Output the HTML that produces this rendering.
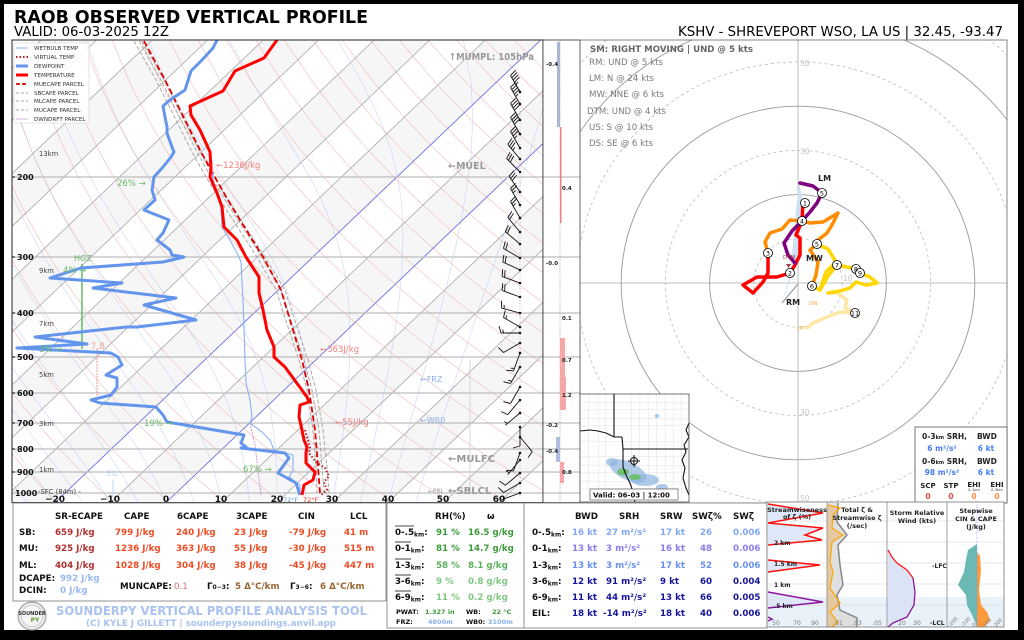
<!DOCTYPE html>
<html><head><meta charset="utf-8">
<style>
html,body{margin:0;padding:0;background:#000;}
svg{display:block;}
text{font-family:"DejaVu Sans","Liberation Sans",sans-serif;}
</style></head><body>
<svg xmlns="http://www.w3.org/2000/svg" width="1024" height="640" viewBox="0 0 1024 640">
<defs>
<clipPath id="cs"><rect x="12" y="40" width="531" height="462.6"/></clipPath>
<clipPath id="ch"><rect x="580" y="40" width="427" height="463"/></clipPath>
<clipPath id="cm"><rect x="580" y="394" width="109" height="108"/></clipPath>
</defs>
<rect x="0" y="0" width="1024" height="640" fill="#000"/>
<rect x="4" y="4" width="1014" height="626" fill="#fff"/>

<!-- titles -->
<text x="14" y="23" font-size="17.5" font-weight="bold" textLength="354" lengthAdjust="spacingAndGlyphs">RAOB OBSERVED VERTICAL PROFILE</text>
<text x="14" y="36" font-size="13.3" textLength="155" lengthAdjust="spacingAndGlyphs">VALID: 06-03-2025 12Z</text>
<text x="678" y="36" font-size="13.3" textLength="325" lengthAdjust="spacingAndGlyphs">KSHV - SHREVEPORT WSO, LA US | 32.45, -93.47</text>

<!-- skew-T background -->
<g clip-path="url(#cs)"><g id="bg"></g>
<g stroke="#bdbdbd" stroke-width="1.2">
<line x1="12" y1="177" x2="543" y2="177"/><line x1="12" y1="257" x2="543" y2="257"/>
<line x1="12" y1="313" x2="543" y2="313"/><line x1="12" y1="357" x2="543" y2="357"/>
<line x1="12" y1="393" x2="543" y2="393"/><line x1="12" y1="423" x2="543" y2="423"/>
<line x1="12" y1="449" x2="543" y2="449"/><line x1="12" y1="472" x2="543" y2="472"/>
<line x1="12" y1="493" x2="543" y2="493"/>
</g>
<line x1="470" y1="360" x2="470" y2="495" stroke="#ccc" stroke-width="0.8"/>
<!-- HGZ / lapse / EIL -->
<line x1="82" y1="264" x2="82" y2="349" stroke="#66bb66" stroke-width="1.5"/>
<line x1="97" y1="349" x2="97" y2="402" stroke="#f08080" stroke-width="0.8" stroke-dasharray="2,1"/>
<line x1="113" y1="480" x2="113" y2="497" stroke="#bcd4f4" stroke-width="1"/>
<!-- parcels -->
<polyline fill="none" stroke="#a8a8a8" stroke-width="1" stroke-dasharray="4,2" points="134,41 156,80 176,120 191,150 202,170 217,195 233,220 257,257 276,290 289,330 299,360 307,390 313,430 316,467 317,493"/>
<polyline fill="none" stroke="#a8a8a8" stroke-width="1" stroke-dasharray="4,2" points="139,41 161,80 181,120 196,150 207,170 222,195 238,220 262,257 281,290 294,330 304,360 312,390 319,430 322,467 324,493"/>
<polyline fill="none" stroke="#a8a8a8" stroke-width="1" stroke-dasharray="4,2" points="142,41 164,80 184,120 199,150 210,170 225,195 241,220 265,257 285,290 298,330 308,360 316,390 323,430 327,467 329,493"/>
<polyline fill="none" stroke="#e00000" stroke-width="1.8" stroke-dasharray="6,3" points="144,41 165,80 185,120 200,150 211,170 225,195 240,220 263,257 281,290 293,330 302,360 309,390 315,430 318,467 320,493"/>
<!-- downdraft -->
<polyline fill="none" stroke="#c98ad0" stroke-width="0.9" stroke-dasharray="2,1" points="250,423 255,445 258,470 261,495"/>
<!-- wetbulb -->
<polyline fill="none" stroke="#86b2f6" stroke-width="1.1" points="211,165 213,180 217,193 221,207 222,227 230,240 239,257 241,262 243,300 244,327 245,360 246,383 250,400 252,417 250,423 262,432 270,440 274,450 293,455 293,470 289,477 300,485 300,495"/>
<!-- virtual temp -->
<polyline fill="none" stroke="#b22222" stroke-width="2" stroke-dasharray="1.5,2" points="305,430 310,447 309,453 316,462 325,468 329,476 324,482 327,490 321,495"/>
<!-- dewpoint -->
<polyline fill="none" stroke="#6495ed" stroke-width="3" stroke-linejoin="round" points="217,40 213,48 202,60 191,71 185,90 170,100 163,106 165,117 167,127 167,133 172,147 174,152 171,157 163,167 154,177 152,190 155,200 144,210 169,220 163,233 157,240 170,250 172,255 184,257 163,262 81,268 50,278 122,283 93,288 176,298 144,305 196,320 137,327 126,327 35,337 87,344 17,348 111,353 118,357 122,365 106,375 117,378 117,387 111,395 91,400 100,403 156,407 163,415 167,422 244,435 241,443 246,447 241,448 285,453 289,458 278,473 296,483 300,495"/>
<!-- temperature -->
<polyline fill="none" stroke="#ff0000" stroke-width="3" stroke-linejoin="round" points="277,40 264,58 235,71 223,91 190,106 191,115 200,130 210,152 211,168 210,177 217,193 222,207 224,227 237,240 246,257 259,277 259,293 263,310 267,330 274,347 274,357 285,367 307,397 309,402 300,405 299,417 302,430 304,440 307,447 306,453 306,463 315,472 313,480 304,485 302,495"/>
<!-- barbs -->
<line x1="520" y1="90" x2="520" y2="496" stroke="#999" stroke-width="0.6" stroke-dasharray="1,2"/>
<g id="barbs"></g>
</g>
<rect x="12" y="40" width="531" height="462.6" fill="none" stroke="#222" stroke-width="1"/>

<!-- legend -->
<rect x="14" y="43" width="75" height="80" fill="#fff" fill-opacity="0.9" stroke="#d0d0d0" stroke-width="0.6" rx="2"/>
<g stroke-linecap="butt">
<line x1="16" y1="48" x2="28" y2="48" stroke="#86b2f6" stroke-width="1"/>
<line x1="16" y1="57" x2="28" y2="57" stroke="#b22222" stroke-width="2" stroke-dasharray="1.5,2"/>
<line x1="16" y1="66" x2="28" y2="66" stroke="#6495ed" stroke-width="3"/>
<line x1="16" y1="75" x2="28" y2="75" stroke="#ff0000" stroke-width="3"/>
<line x1="16" y1="84" x2="28" y2="84" stroke="#e00000" stroke-width="1.8" stroke-dasharray="4,2"/>
<line x1="16" y1="93" x2="28" y2="93" stroke="#a8a8a8" stroke-width="1" stroke-dasharray="3,2"/>
<line x1="16" y1="101" x2="28" y2="101" stroke="#a8a8a8" stroke-width="1" stroke-dasharray="3,2"/>
<line x1="16" y1="110" x2="28" y2="110" stroke="#a8a8a8" stroke-width="1" stroke-dasharray="3,2"/>
<line x1="16" y1="119" x2="28" y2="119" stroke="#d8a0d8" stroke-width="0.8"/>
</g>
<g font-size="5.6" fill="#333">
<text x="34" y="50">WETBULB TEMP</text><text x="34" y="59">VIRTUAL TEMP</text>
<text x="34" y="68">DEWPOINT</text><text x="34" y="77">TEMPERATURE</text>
<text x="34" y="86">MUECAPE PARCEL</text><text x="34" y="95">SBCAPE PARCEL</text>
<text x="34" y="103">MLCAPE PARCEL</text><text x="34" y="112">MUCAPE PARCEL</text>
<text x="34" y="121">DWNDRFT PARCEL</text>
</g>

<!-- pressure labels -->
<g font-size="8" font-weight="bold" fill="#111">
<text x="17" y="180">200</text><text x="17" y="260">300</text><text x="17" y="316">400</text>
<text x="17" y="360">500</text><text x="17" y="396">600</text><text x="17" y="426">700</text>
<text x="17" y="452">800</text><text x="17" y="475">900</text><text x="15" y="496">1000</text>
</g>
<g stroke="#111" stroke-width="1"><line x1="12" y1="177" x2="15" y2="177"/><line x1="12" y1="257" x2="15" y2="257"/><line x1="12" y1="313" x2="15" y2="313"/><line x1="12" y1="357" x2="15" y2="357"/><line x1="12" y1="393" x2="15" y2="393"/><line x1="12" y1="423" x2="15" y2="423"/><line x1="12" y1="449" x2="15" y2="449"/><line x1="12" y1="472" x2="15" y2="472"/></g>
<!-- temp axis labels -->
<g font-size="9" font-weight="bold" fill="#111" text-anchor="middle">
<text x="55" y="502">−20</text><text x="110" y="502">−10</text><text x="166" y="502">0</text>
<text x="221" y="502">10</text><text x="277" y="502">20</text><text x="332" y="502">30</text>
<text x="388" y="502">40</text><text x="443" y="502">50</text><text x="499" y="502">60</text>
</g>
<text x="283" y="502" font-size="6.5" fill="#6495ed">72°F</text>
<text x="303" y="502" font-size="6.5" fill="#ff3030">72°F</text>
<!-- height labels -->
<g font-size="6.8" fill="#444">
<text x="39" y="156">13km</text><text x="39" y="273">9km</text><text x="39" y="326">7km</text>
<text x="39" y="377">5km</text><text x="39" y="426">3km</text><text x="39" y="472">1km</text>
<text x="38" y="494">-SFC (84m) -</text>
</g>
<!-- annotations -->
<g font-size="8.5">
<text x="117" y="186" fill="#66bb66">26% →</text>
<text x="74" y="261" fill="#66bb66" font-size="8">HGZ</text>
<text x="63" y="273" fill="#66bb66">4% →</text>
<text x="39" y="352" fill="#66bb66">3% →</text>
<text x="91" y="349" fill="#f4a0a0">7.8</text>
<text x="144" y="426" fill="#66bb66">19% →</text>
<text x="243" y="472" fill="#66bb66">67% →</text>
<text x="107" y="476" fill="#bcd4f4" font-size="7.5">EIL</text>
<text x="216" y="168" fill="#f08080">←1236J/kg</text>
<text x="320" y="352" fill="#f08080">←363J/kg</text>
<text x="335" y="425" fill="#f08080">←55J/kg</text>
<text x="420" y="382" fill="#8ab0f0" font-size="8">←FRZ</text>
<text x="420" y="423" fill="#8ab0f0" font-size="8">←WB0</text>
</g>
<g font-size="9.5" font-weight="bold" fill="#999">
<text x="449" y="60" textLength="85" lengthAdjust="spacingAndGlyphs">↑MUMPL: 105hPa</text>
<text x="448" y="169">←MUEL</text>
<text x="448" y="462" font-size="10">←MULFC</text>
<text x="448" y="494" font-size="10">←SBLCL</text>
<text x="428" y="493" font-size="6" font-weight="normal">←PBL</text>
</g>

<!-- right strip -->
<rect x="543" y="40" width="37" height="462.6" fill="#fff"/>
<g stroke="#bdbdbd" stroke-width="1.2">
<line x1="543" y1="177" x2="580" y2="177"/><line x1="543" y1="257" x2="580" y2="257"/>
<line x1="543" y1="313" x2="580" y2="313"/><line x1="543" y1="357" x2="580" y2="357"/>
<line x1="543" y1="393" x2="580" y2="393"/><line x1="543" y1="423" x2="580" y2="423"/>
<line x1="543" y1="449" x2="580" y2="449"/><line x1="543" y1="472" x2="580" y2="472"/>
<line x1="543" y1="493" x2="580" y2="493"/>
</g>
<line x1="560" y1="40" x2="560" y2="502" stroke="#888" stroke-width="0.6" stroke-dasharray="1.5,1.5"/>
<rect x="557" y="42" width="3" height="85" fill="#a9b6d4"/>
<rect x="560" y="127" width="1.5" height="96" fill="#f08080"/>
<rect x="560" y="338" width="5" height="39" fill="#f6a8a8"/>
<rect x="560" y="377" width="6" height="33" fill="#f6a8a8"/>
<rect x="556" y="437" width="4" height="25" fill="#b0bce0"/>
<rect x="560" y="462" width="4" height="21" fill="#f6a8a8"/>
<g font-size="5.5" font-weight="bold" fill="#222">
<text x="546" y="66">-0.4</text><text x="562" y="190">0.4</text><text x="546" y="265">-0.0</text>
<text x="562" y="320">0.1</text><text x="562" y="362">0.7</text><text x="562" y="397">1.2</text>
<text x="546" y="427">-0.2</text><text x="546" y="453">-0.4</text><text x="562" y="474">0.8</text>
</g>
<rect x="543" y="40" width="37" height="462.6" fill="none" stroke="#333" stroke-width="0.8"/>

<!-- hodograph -->
<g clip-path="url(#ch)">
<g fill="none">
<circle cx="798" cy="283" r="44.2" stroke="#bbb" stroke-width="0.8" stroke-dasharray="3,3"/>
<circle cx="798" cy="283" r="88.4" stroke="#999" stroke-width="0.9"/>
<circle cx="798" cy="283" r="132.6" stroke="#bbb" stroke-width="0.8" stroke-dasharray="3,3"/>
<circle cx="798" cy="283" r="176.8" stroke="#999" stroke-width="0.9"/>
<circle cx="798" cy="283" r="221" stroke="#bbb" stroke-width="0.8" stroke-dasharray="3,3"/>
<circle cx="798" cy="283" r="265.2" stroke="#999" stroke-width="0.9"/>
<circle cx="798" cy="283" r="309.4" stroke="#bbb" stroke-width="0.8" stroke-dasharray="3,3"/>
<circle cx="798" cy="283" r="353.6" stroke="#999" stroke-width="0.9"/>
</g>
<line x1="798" y1="40" x2="798" y2="503" stroke="#aaa" stroke-width="0.8"/>
<line x1="580" y1="283" x2="1007" y2="283" stroke="#aaa" stroke-width="0.8"/>
<g font-size="7.5" fill="#c4c4c4">
<text x="800" y="66">50</text><text x="800" y="154">30</text><text x="843" y="281">10</text>
<text x="800" y="415">30</text><text x="800" y="501">50</text>
</g>
<polygon points="799,182 803,203 797,260 782,303 790,275 796,210" fill="#cfe2f3"/>
<line x1="782" y1="303" x2="798" y2="284" stroke="#999" stroke-width="1.2"/>
<g fill="none" stroke-width="3.5" stroke-linejoin="round" stroke-linecap="round">
<polyline stroke="#ffe8a6" points="828,293 837,293 843,297 847,300 845,308 855,313 840,312 827,317 813,323 807,328"/>
<polyline stroke="#ffd700" points="817,244 828,249 836,262 826,272 820,290 828,276 837,265 856,269 860,273 870,277 877,283 866,285 856,282 850,288 840,291 828,293"/>
<polyline stroke="#ffd700" points="812,286 820,290"/>
<polyline stroke="#ff8c00" points="768,253 765,242 770,233 782,229 790,220 802,221 810,223 823,222 838,213 832,225 827,233 818,240 817,244 810,250 818,262 816,275 812,286"/>
<polyline stroke="#ff0000" points="803,203 802,221 796,235 800,238 800,255 795,265 790,273 777,277 757,277 743,285 753,293 763,282 768,273 768,253"/>
<polyline stroke="#800080" points="800,183 813,186 822,193 817,203 810,212 802,221 792,231 784,243 788,255 795,263"/>
</g>
<g stroke="#000" stroke-width="0.8" fill="#fff">
<circle cx="805" cy="203" r="4.5"/><circle cx="822" cy="193" r="4.5"/><circle cx="802" cy="221" r="4.5"/>
<circle cx="817" cy="244" r="4.5"/><circle cx="768" cy="253" r="4.5"/><circle cx="790" cy="273" r="4.5"/>
<circle cx="812" cy="286" r="4.5"/><circle cx="837" cy="265" r="4.5"/><circle cx="856" cy="269" r="4.5"/>
<circle cx="860" cy="273" r="4.5"/><circle cx="855" cy="313" r="4.5"/>
</g>
<g font-size="6.5" text-anchor="middle" fill="#000">
<text x="805" y="205.5">1</text><text x="822" y="195.5">5</text><text x="802" y="223.5">4</text>
<text x="817" y="246.5">5</text><text x="768" y="255.5">3</text><text x="790" y="275.5">2</text>
<text x="812" y="288.5">6</text><text x="837" y="267.5">7</text><text x="856" y="271.5">8</text>
<text x="860" y="275.5">9</text><text x="855" y="315.5">11</text>
</g>
<g font-size="8" font-weight="bold" fill="#222">
<text x="818" y="181">LM</text><text x="806" y="261">MW</text><text x="786" y="305">RM</text>
</g>
<text x="783" y="259" font-size="5.5" fill="#a03030">DTM</text>
<polygon points="786,264 791,264 788.5,268" fill="#a04040"/>
<text x="809" y="305" font-size="5.5" fill="#f0b040">DN</text>
<text x="797" y="330" font-size="5.5" fill="#f0b040">UP</text>
</g>
<rect x="580" y="40" width="427" height="463" fill="none" stroke="#666" stroke-width="0.8"/>
<text x="590" y="52" font-size="9" font-weight="bold" fill="#666" textLength="163" lengthAdjust="spacingAndGlyphs">SM: RIGHT MOVING | UND @ 5 kts</text>
<g font-size="9.2" fill="#7a7a7a">
<text x="589" y="65" textLength="74" lengthAdjust="spacingAndGlyphs">RM: UND @ 5 kts</text>
<text x="589" y="81" textLength="65" lengthAdjust="spacingAndGlyphs">LM: N @ 24 kts</text>
<text x="589" y="97" textLength="75" lengthAdjust="spacingAndGlyphs">MW: NNE @ 6 kts</text>
<text x="587" y="114" textLength="79" lengthAdjust="spacingAndGlyphs">DTM: UND @ 4 kts</text>
<text x="589" y="130" textLength="64" lengthAdjust="spacingAndGlyphs">US: S @ 10 kts</text>
<text x="589" y="146" textLength="64" lengthAdjust="spacingAndGlyphs">DS: SE @ 6 kts</text>
</g>

<!-- map inset -->
<rect x="580" y="394" width="109" height="108" fill="#fff"/>
<g clip-path="url(#cm)">
<g stroke="#e0e0e0" stroke-width="0.5">
<line x1="580" y1="402" x2="689" y2="403"/><line x1="580" y1="410" x2="689" y2="409"/><line x1="580" y1="418" x2="689" y2="419"/><line x1="580" y1="426" x2="689" y2="425"/><line x1="580" y1="441" x2="689" y2="442"/><line x1="580" y1="457" x2="689" y2="456"/><line x1="580" y1="465" x2="689" y2="466"/><line x1="580" y1="473" x2="689" y2="472"/><line x1="580" y1="481" x2="689" y2="482"/><line x1="580" y1="489" x2="689" y2="488"/>
<line x1="589" y1="394" x2="588" y2="502"/><line x1="598" y1="394" x2="599" y2="502"/><line x1="606" y1="394" x2="605" y2="502"/><line x1="631" y1="394" x2="632" y2="502"/><line x1="640" y1="394" x2="639" y2="502"/><line x1="648" y1="394" x2="649" y2="502"/><line x1="657" y1="394" x2="656" y2="502"/><line x1="665" y1="394" x2="666" y2="502"/><line x1="674" y1="394" x2="673" y2="502"/><line x1="681" y1="394" x2="682" y2="502"/>
</g>
<g fill="#8fb3e0" fill-opacity="0.7">
<ellipse cx="628" cy="471" rx="20" ry="9" transform="rotate(25 628 471)"/>
<ellipse cx="645" cy="480" rx="14" ry="6"/>
<ellipse cx="612" cy="462" rx="6" ry="4"/>
<ellipse cx="657" cy="416" rx="2.5" ry="2"/>
<ellipse cx="662" cy="487" rx="6" ry="3"/>
</g>
<g fill="#66c060" fill-opacity="0.85">
<ellipse cx="623" cy="472" rx="6" ry="3.5"/><ellipse cx="635" cy="477" rx="6" ry="3"/>
</g>
<g fill="none" stroke="#111" stroke-width="1.1">
<path d="M614,394 L614,437"/>
<path d="M580,431 L590,430 L598,431 L606,433 L614,437 L622,437"/>
<path d="M622,437 L623,449 L623,467 L626,475 L630,483 L633,492 L635,502"/>
<path d="M623,449 L688,449"/>
<path d="M689,423 L686,430 L689,437 L684,445 L686,452 L682,460 L685,468 L683,478 L686,488 L689,495"/>
</g>
<circle cx="634" cy="461" r="3.5" fill="none" stroke="#111" stroke-width="1"/>
<path d="M628,461 L640,461 M634,455 L634,467" stroke="#111" stroke-width="1"/>
<rect x="590" y="489" width="88" height="11" fill="#fff" stroke="#444" stroke-width="0.6"/>
<text x="593" y="497.5" font-size="7" font-weight="bold" fill="#111">Valid: 06-03 | 12:00</text>
</g>
<rect x="580" y="394" width="109" height="108" fill="none" stroke="#555" stroke-width="0.8"/>

<!-- SRH box -->
<rect x="915" y="427" width="92" height="76" fill="#fff" stroke="#555" stroke-width="0.8"/>
<g font-size="7.5" font-weight="bold" fill="#222">
<text x="922" y="439">0-3<tspan font-size="5">km</tspan> SRH,</text><text x="977" y="439">BWD</text>
<text x="922" y="464">0-6<tspan font-size="5">km</tspan> SRH,</text><text x="977" y="464">BWD</text>
</g>
<g font-size="7.5" font-weight="bold" fill="#4a7cf4" text-anchor="middle">
<text x="942" y="451">6 m²/s²</text><text x="986" y="451">6 kt</text>
<text x="942" y="475">98 m²/s²</text><text x="986" y="475">6 kt</text>
</g>
<g font-size="7" font-weight="bold" fill="#222" text-anchor="middle">
<text x="928" y="488">SCP</text><text x="951" y="488">STP</text><text x="974" y="487">EHI</text><text x="997" y="487">EHI</text>
</g>
<g font-size="3.5" fill="#333" text-anchor="middle"><text x="974" y="491">0–1km</text><text x="997" y="491">0–3km</text></g>
<g font-size="7.5" font-weight="bold" text-anchor="middle">
<text x="928" y="499" fill="#e04848">0</text><text x="951" y="499" fill="#e04848">0</text>
<text x="974" y="499" fill="#ff8c3c">0</text><text x="997" y="499" fill="#ff8c3c">0</text>
</g>

<!-- panel 1 -->
<rect x="13" y="503" width="373" height="98" fill="#fff" stroke="#777" stroke-width="0.8"/>
<g font-size="8.7" font-weight="bold">
<g fill="#111">
<text x="55" y="519">SR-ECAPE</text><text x="124" y="519">CAPE</text><text x="177" y="519">6CAPE</text>
<text x="236" y="519">3CAPE</text><text x="298" y="519">CIN</text><text x="350" y="519">LCL</text>
<text x="19" y="535">SB:</text><text x="19" y="551">MU:</text><text x="19" y="568">ML:</text>
<text x="19" y="581">DCAPE:</text><text x="19" y="593">DCIN:</text>
<text x="120" y="589">MUNCAPE:</text>
<text x="207" y="589">Γ<tspan font-size="6">0−3</tspan>:</text>
<text x="290" y="589">Γ<tspan font-size="6">3−6</tspan>:</text>
</g>
<g fill="#b03030">
<text x="55" y="535">659 J/kg</text><text x="55" y="551">925 J/kg</text><text x="55" y="568">404 J/kg</text>
</g>
<g fill="#f04a22">
<text x="115" y="535">799 J/kg</text><text x="176" y="535">240 J/kg</text><text x="234" y="535">23 J/kg</text><text x="289" y="535">-79 J/kg</text><text x="344" y="535">41 m</text>
<text x="115" y="551">1236 J/kg</text><text x="176" y="551">363 J/kg</text><text x="234" y="551">55 J/kg</text><text x="289" y="551">-30 J/kg</text><text x="344" y="551">515 m</text>
<text x="115" y="568">1028 J/kg</text><text x="176" y="568">304 J/kg</text><text x="234" y="568">38 J/kg</text><text x="289" y="568">-45 J/kg</text><text x="344" y="568">447 m</text>
</g>
<text x="60" y="581" fill="#9ab8f0">992 J/kg</text>
<text x="60" y="593" fill="#9ab8f0">0 J/kg</text>
<text x="174" y="589" fill="#cd7070" font-weight="normal">0.1</text>
<text x="235" y="589" fill="#9a6530">5 Δ°C/km</text>
<text x="320" y="589" fill="#9a6530">6 Δ°C/km</text>
</g>
<!-- logo -->
<circle cx="32" cy="616" r="14" fill="#e8e8e8" stroke="#999" stroke-width="1"/>
<circle cx="32" cy="616" r="10.5" fill="#f6f6f6" stroke="#bbb" stroke-width="0.6"/>
<text x="32" y="615" font-size="5" font-weight="bold" fill="#333" text-anchor="middle">SOUNDER</text>
<text x="35" y="622" font-size="6" font-weight="bold" fill="#6a9a3a" text-anchor="middle">PY</text>
<text x="56" y="615" font-size="12.5" font-weight="bold" fill="#a9c2ef" textLength="311" lengthAdjust="spacingAndGlyphs">SOUNDERPY VERTICAL PROFILE ANALYSIS TOOL</text>
<text x="86" y="626" font-size="8.5" font-weight="bold" fill="#a9c2ef" textLength="250" lengthAdjust="spacingAndGlyphs">(C) KYLE J GILLETT | sounderpysoundings.anvil.app</text>

<!-- panels 2 & 3 -->
<rect x="387" y="503" width="380" height="125" fill="#fff" stroke="#777" stroke-width="0.8"/>
<line x1="524" y1="503" x2="524" y2="628" stroke="#777" stroke-width="0.8"/>
<g font-size="8.7" font-weight="bold">
<g fill="#111">
<text x="435" y="519">RH(%)</text><text x="487" y="519">ω</text>
<text x="395" y="535">0-.5<tspan font-size="6" dy="1.5">km</tspan><tspan dy="-1.5">:</tspan></text>
<text x="395" y="551">0-1<tspan font-size="6" dy="1.5">km</tspan><tspan dy="-1.5">:</tspan></text>
<text x="395" y="568">1-3<tspan font-size="6" dy="1.5">km</tspan><tspan dy="-1.5">:</tspan></text>
<text x="395" y="584">3-6<tspan font-size="6" dy="1.5">km</tspan><tspan dy="-1.5">:</tspan></text>
<text x="395" y="600">6-9<tspan font-size="6" dy="1.5">km</tspan><tspan dy="-1.5">:</tspan></text>
</g>
<g fill="#3c9c3c"><text x="436" y="535">91 %</text><text x="468" y="535">16.5 g/kg</text><text x="436" y="551">81 %</text><text x="468" y="551">14.7 g/kg</text></g>
<g fill="#5ab05a"><text x="436" y="568">58 %</text><text x="468" y="568">8.1 g/kg</text></g>
<g fill="#80c880"><text x="436" y="584">9 %</text><text x="468" y="584">0.8 g/kg</text><text x="436" y="600">11 %</text><text x="468" y="600">0.2 g/kg</text></g>
</g>
<g stroke="#111" stroke-width="0.8">
<line x1="395" y1="526" x2="414" y2="526"/><line x1="395" y1="542" x2="411" y2="542"/><line x1="395" y1="559" x2="411" y2="559"/><line x1="395" y1="575" x2="411" y2="575"/><line x1="395" y1="591" x2="411" y2="591"/>
</g>
<g font-size="6.5" font-weight="bold">
<text x="396" y="614" fill="#111">PWAT:</text><text x="425" y="614" fill="#3c9c3c">1.327 in</text>
<text x="466" y="614" fill="#111">WB:</text><text x="492" y="614" fill="#3c9c3c">22 °C</text>
<text x="396" y="624" fill="#111">FRZ:</text><text x="428" y="624" fill="#8ab0f0">4800m</text>
<text x="466" y="624" fill="#111">WB0:</text><text x="488" y="624" fill="#8ab0f0">3100m</text>
</g>
<g font-size="8.7" font-weight="bold">
<g fill="#111">
<text x="575" y="519">BWD</text><text x="619" y="519">SRH</text><text x="660" y="519">SRW</text><text x="692" y="519">SWζ%</text><text x="733" y="519">SWζ</text>
<text x="532" y="535">0-.5<tspan font-size="6" dy="1.5">km</tspan><tspan dy="-1.5">:</tspan></text>
<text x="532" y="551">0-1<tspan font-size="6" dy="1.5">km</tspan><tspan dy="-1.5">:</tspan></text>
<text x="532" y="568">1-3<tspan font-size="6" dy="1.5">km</tspan><tspan dy="-1.5">:</tspan></text>
<text x="532" y="584">3-6<tspan font-size="6" dy="1.5">km</tspan><tspan dy="-1.5">:</tspan></text>
<text x="532" y="600">6-9<tspan font-size="6" dy="1.5">km</tspan><tspan dy="-1.5">:</tspan></text>
<text x="532" y="616">EIL:</text>
</g>
<g fill="#80a8f4"><text x="572" y="535">16 kt</text><text x="606" y="535">27 m²/s²</text><text x="660" y="535">17 kt</text><text x="700" y="535">26</text><text x="733" y="535">0.006</text></g>
<g fill="#8a7cf0"><text x="572" y="551">13 kt</text><text x="606" y="551">3 m²/s²</text><text x="660" y="551">16 kt</text><text x="700" y="551">48</text><text x="733" y="551">0.006</text></g>
<g fill="#6890ee"><text x="572" y="568">13 kt</text><text x="606" y="568">3 m²/s²</text><text x="660" y="568">17 kt</text><text x="700" y="568">52</text><text x="733" y="568">0.006</text></g>
<g fill="#16169c">
<text x="572" y="584">12 kt</text><text x="606" y="584">91 m²/s²</text><text x="660" y="584">9 kt</text><text x="700" y="584">60</text><text x="733" y="584">0.004</text>
<text x="572" y="600">11 kt</text><text x="606" y="600">44 m²/s²</text><text x="660" y="600">13 kt</text><text x="700" y="600">66</text><text x="733" y="600">0.005</text>
<text x="572" y="616">18 kt</text><text x="603" y="616">-14 m²/s²</text><text x="660" y="616">18 kt</text><text x="700" y="616">40</text><text x="733" y="616">0.006</text>
</g>
</g>

<!-- panel 4 -->
<rect x="767" y="502" width="237" height="125" fill="#fff"/>
<rect x="767" y="597" width="237" height="30" fill="#e9f2f9"/>
<g stroke="#d0d0d0" stroke-width="0.6">
<line x1="767" y1="521" x2="1004" y2="521"/><line x1="767" y1="542" x2="1004" y2="542"/><line x1="767" y1="563" x2="1004" y2="563"/><line x1="767" y1="584" x2="1004" y2="584"/><line x1="767" y1="605" x2="1004" y2="605"/>
</g>
<!-- sub1 -->
<polygon fill="#dfe8f8" points="768,504 823,513 768,523 823,528 805,535 822,540 768,545"/>
<polygon fill="#dfe8f8" points="768,560 820,565 768,572"/>
<polygon fill="#dfe8f8" points="768,592 823,602 768,608"/>
<polyline fill="none" stroke="#ff1010" stroke-width="1.5" points="768,504 823,513 768,523 823,528 805,535 822,540 768,545"/>
<polyline fill="none" stroke="#ff1010" stroke-width="1.5" points="768,560 820,565 768,572"/>
<polyline fill="none" stroke="#8b1a9b" stroke-width="1.5" points="768,592 823,602 768,608"/>
<polyline fill="none" stroke="#8b1a9b" stroke-width="1.5" points="768,617 772,619 768,621"/>
<!-- sub2 -->
<polygon fill="#d8d8d8" fill-opacity="0.8" points="827,503 838,503 837,522 847,535 838,545 840,565 843,585 837,595 840,610 857,618 857,627 827,627"/>
<polygon fill="#e6c28e" fill-opacity="0.75" points="827,505 840,508 833,515 832,528 843,535 832,542 830,562 833,572 830,588 840,603 830,612 838,622 832,627 827,627"/>
<polyline fill="none" stroke="#888" stroke-width="1.5" points="838,503 837,522 847,535 838,545 840,565 843,585 837,595 840,610 857,618 857,627"/>
<polyline fill="none" stroke="#ffa500" stroke-width="1.2" points="828,505 840,508 833,515 832,528 843,535 832,542 830,562 833,572 830,588 840,603 830,612 838,622 832,627"/>
<!-- sub3 -->
<polygon fill="#dbe3f6" points="888,550 892,557 897,563 907,570 913,578 915,592 914,605 907,617 893,623 888,627"/>
<polyline fill="none" stroke="#ff1a1a" stroke-width="1.3" points="888,550 892,557 897,563 907,570 913,578"/>
<polyline fill="none" stroke="#8b1a9b" stroke-width="1.3" points="913,578 915,592 914,605 907,617 893,623 888,627"/>
<!-- sub4 -->
<polygon fill="#6bb8b4" points="977,544 968,550 966,560 964,572 958,585 966,595 967,605 972,615 977,627"/>
<polygon fill="#ff9a3c" points="977,552 980,556 981,570 979,590 981,605 987,612 990,620 984,627 977,627"/>
<line x1="977" y1="502" x2="977" y2="627" stroke="#6b8ef0" stroke-width="0.7" stroke-dasharray="1,1.5"/>
<g stroke="#888" stroke-width="0.8">
<line x1="827" y1="502" x2="827" y2="627"/><line x1="887" y1="502" x2="887" y2="627"/><line x1="947" y1="502" x2="947" y2="627"/>
</g>
<rect x="767" y="502" width="237" height="125" fill="none" stroke="#777" stroke-width="0.8"/>
<g font-size="6.5" font-weight="bold" fill="#222" text-anchor="middle">
<text x="797" y="512">Streamwiseness</text><text x="797" y="519">of ζ (%)</text>
<text x="857" y="512">Total ζ &amp;</text><text x="857" y="520">Streamwise ζ</text><text x="857" y="528">(/sec)</text>
<text x="917" y="515">Storm Relative</text><text x="917" y="523">Wind (kts)</text>
<text x="976" y="513">Stepwise</text><text x="976" y="521">CIN &amp; CAPE</text><text x="976" y="529">(J/kg)</text>
</g>
<g font-size="6" font-weight="bold" fill="#222">
<text x="774" y="545">2 km</text><text x="774" y="566">1.5 km</text><text x="774" y="587">1 km</text><text x="774" y="608">.5 km</text>
<text x="932" y="568">-LFC</text><text x="930" y="625">-LCL</text>
</g>
<g font-size="6" fill="#777" text-anchor="middle">
<text x="776" y="625">50</text><text x="797" y="625">70</text><text x="815" y="625">90</text>
<text x="838" y="625">.01</text><text x="857" y="625">.03</text><text x="877" y="625">.05</text>
<text x="902" y="625">20</text><text x="917" y="625">30</text>
</g>
<g font-size="5" fill="#777">
<text transform="translate(950,627) rotate(-45)">-200</text>
<text transform="translate(963,627) rotate(-45)">-100</text>
<text transform="translate(974,627) rotate(-45)">0</text>
<text transform="translate(985,627) rotate(-45)">100</text>
<text transform="translate(996,627) rotate(-45)">200</text>
</g>

<script>
(function(){
var NS="http://www.w3.org/2000/svg";
var g=document.getElementById('bg');
function Y(p){return 493+196.4*Math.log(p/1000);}
function X(T,p){return 166+5.55*T+1.05*(502.6-Y(p));}
function add(par,tag,a){var e=document.createElementNS(NS,tag);for(var k in a)e.setAttribute(k,a[k]);par.appendChild(e);return e;}
var T,p,pts,i;
for(T=-150;T<=70;T+=20){
 pts=[[X(T,1050),Y(1050)],[X(T+10,1050),Y(1050)],[X(T+10,100),Y(100)],[X(T,100),Y(100)]];
 add(g,'polygon',{points:pts.map(function(a){return a[0].toFixed(1)+','+a[1].toFixed(1);}).join(' '),fill:'#f6f6f6'});
}
for(var th=230;th<=500;th+=10){
 pts=[];for(p=1050;p>=100;p-=25){T=th*Math.pow(p/1000,0.2857)-273.15;pts.push(X(T,p).toFixed(1)+','+Y(p).toFixed(1));}
 add(g,'polyline',{points:pts.join(' '),fill:'none',stroke:'#eeaaaa','stroke-width':0.6,'stroke-opacity':0.8});
}
function dTdp(T,p){var Tc=T-273.15;var es=6.112*Math.exp(17.67*Tc/(Tc+243.5));var rs=0.622*es/(p-es);
 return (287.04*T+2.501e6*rs)/(p*(1005.7+2.501e6*2.501e6*rs*0.622/(287.04*T*T)));}
for(var t0=-25;t0<=45;t0+=5){
 T=t0+273.15;pts=[];
 for(p=1050;p>=100;p-=5){ if(p%25==0) pts.push(X(T-273.15,p).toFixed(1)+','+Y(p).toFixed(1)); T+=dTdp(T,p)*(-5);}
 add(g,'polyline',{points:pts.join(' '),fill:'none',stroke:'#a8b4f0','stroke-width':0.6,'stroke-opacity':0.55});
}
for(T=-150;T<=70;T+=10){
 var blue=(T==0||T==-20);
 add(g,'line',{x1:X(T,1050),y1:Y(1050),x2:X(T,100),y2:Y(100),stroke:blue?'#7070e0':'#a8a8a8','stroke-width':blue?0.9:0.8});
}
var bg=document.getElementById('barbs');
var bb=[[92,330,45],[104,330,45],[120,330,40],[134,330,40],[148,330,35],[159,320,35],[172,315,30],[192,325,30],[205,330,25],[218,330,25],[232,320,20],[244,310,20],[258,300,20],[270,295,20],[283,290,20],[297,290,20],[313,285,15],[327,300,15],[333,270,15],[343,240,10],[353,200,15],[367,210,15],[387,210,10],[400,220,10],[413,230,5],[427,180,10],[437,140,10],[453,200,10],[460,220,5],[473,230,10],[483,240,10],[493,250,5]];
bb.forEach(function(b){
 var y=b[0],d=b[1]*Math.PI/180,s=b[2];
 var ux=Math.sin(d),uy=-Math.cos(d),L=19,bx=520,tx=bx+L*ux,ty=y+L*uy,fx=-uy,fy=ux;
 var path='M'+bx+','+y+'L'+tx.toFixed(1)+','+ty.toFixed(1);
 var pos=0,sp=s;
 while(sp>=10){var ax2=tx-ux*pos,ay2=ty-uy*pos;path+='M'+ax2.toFixed(1)+','+ay2.toFixed(1)+'L'+(ax2+fx*7+ux*2).toFixed(1)+','+(ay2+fy*7+uy*2).toFixed(1);pos+=2.6;sp-=10;}
 if(sp>=5){if(pos==0)pos=2.6;var ax3=tx-ux*pos,ay3=ty-uy*pos;path+='M'+ax3.toFixed(1)+','+ay3.toFixed(1)+'L'+(ax3+fx*3.5+ux).toFixed(1)+','+(ay3+fy*3.5+uy).toFixed(1);}
 add(bg,'path',{d:path,fill:'none',stroke:'#111','stroke-width':0.9});
 add(bg,'circle',{cx:bx,cy:y,r:1.3,fill:'#111'});
});
})();
</script>
</svg>
</body></html>
